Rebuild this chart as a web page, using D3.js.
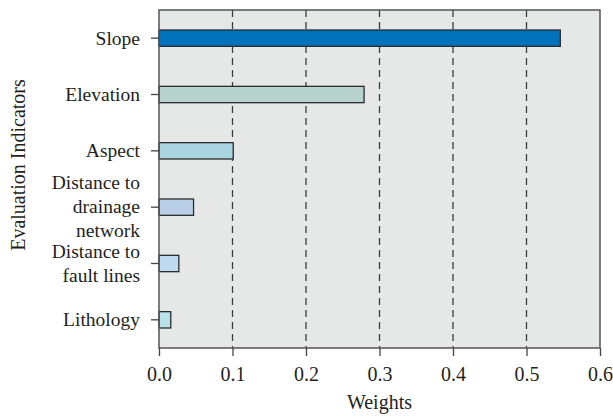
<!DOCTYPE html>
<html>
<head>
<meta charset="utf-8">
<script src="https://cdn.jsdelivr.net/npm/d3@7"></script>
<style>
  body { margin: 0; background: #fff; }
  text { font-family: "Liberation Serif", "DejaVu Serif", serif; fill: #231f20; }
</style>
</head>
<body>
<svg id="chart" width="613" height="417"></svg>
<script>
// indicator names (top to bottom), multi-line labels
let indicators = ['Slope', 'Elevation', 'Aspect', 'Distance to drainage network', 'Distance to fault lines', 'Lithology']
let labelLines = [['Slope'], ['Elevation'], ['Aspect'], ['Distance to', 'drainage', 'network'], ['Distance to', 'fault lines'], ['Lithology']]
let weights = [0.546, 0.279, 0.101, 0.047, 0.027, 0.016]
let barColors = ['#0072bc', '#b7d3cb', '#acd5e2', '#b8cfe7', '#bcdaf0', '#b8e1e9']
let xTicks = [0, 0.1, 0.2, 0.3, 0.4, 0.5, 0.6]

let svg = d3.select('#chart')
let margin = {left: 159, right: 13, top: 10, bottom: 69}
let w = 613 - margin.left - margin.right,
    h = 417 - margin.top - margin.bottom

let g = svg.append('g').attr('transform', 'translate(' + margin.left + ',' + margin.top + ')')

let x = d3.scaleLinear().domain([0, 0.6]).range([0, w])
let y = d3.scaleBand().domain(indicators).range([0, h]).paddingInner(0.71).paddingOuter(0.355)

//背景
g.append('rect')
    .attr('width', w).attr('height', h)
    .attr('fill', '#e6e7e7')

//虚线网格
g.selectAll('.grid')
    .data(xTicks.slice(1, -1))
    .enter()
    .append('line')
    .attr('x1', d => x(d)).attr('x2', d => x(d))
    .attr('y1', 0).attr('y2', h)
    .attr('stroke', '#3c3c3c')
    .attr('stroke-width', 1.3)
    .attr('stroke-dasharray', '7,5')

//柱子
g.selectAll('.bar')
    .data(indicators)
    .enter()
    .append('rect')
    .attr('x', 0)
    .attr('y', d => y(d))
    .attr('width', (d, i) => x(weights[i]))
    .attr('height', y.bandwidth())
    .attr('fill', (d, i) => barColors[i])
    .attr('stroke', '#2b2b2b')
    .attr('stroke-width', 1.3)

//边框
g.append('rect')
    .attr('width', w).attr('height', h)
    .attr('fill', 'none')
    .attr('stroke', '#555')
    .attr('stroke-width', 1.5)

//x轴
let xAxis = g.append('g')
    .attr('transform', 'translate(0,' + h + ')')
    .call(d3.axisBottom(x).tickValues(xTicks).tickFormat(d3.format('.1f')).tickSize(8).tickPadding(11))
xAxis.select('.domain').remove()
xAxis.selectAll('line').attr('stroke', '#444').attr('stroke-width', 1.3)
xAxis.selectAll('text').attr('font-size', 20).attr('fill', '#231f20')
    .style('font-family', '"Liberation Serif", serif')

//y轴刻度
let yAxis = g.append('g')
    .call(d3.axisLeft(y).tickSize(8).tickFormat(''))
yAxis.select('.domain').remove()
yAxis.selectAll('line').attr('stroke', '#444').attr('stroke-width', 1.3)

//y轴标签（多行）
let lineH = 24
indicators.forEach(function (d, i) {
    let lines = labelLines[i]
    let cy = y(d) + y.bandwidth() / 2
    let t = g.append('text')
        .attr('text-anchor', 'end')
        .attr('font-size', 19.5)
    lines.forEach(function (s, j) {
        t.append('tspan')
            .attr('x', -19)
            .attr('y', cy + 6.5 + (j - (lines.length - 1) / 2) * lineH - (lines.length == 3 ? 1 : 0))
            .text(s)
    })
})

//坐标轴标题
svg.append('text')
    .attr('x', margin.left + w / 2)
    .attr('y', 409)
    .attr('text-anchor', 'middle')
    .attr('font-size', 20)
    .text('Weights')

svg.append('text')
    .attr('transform', 'translate(25,165) rotate(-90)')
    .attr('text-anchor', 'middle')
    .attr('font-size', 20)
    .text('Evaluation Indicators')
</script>
</body>
</html>
